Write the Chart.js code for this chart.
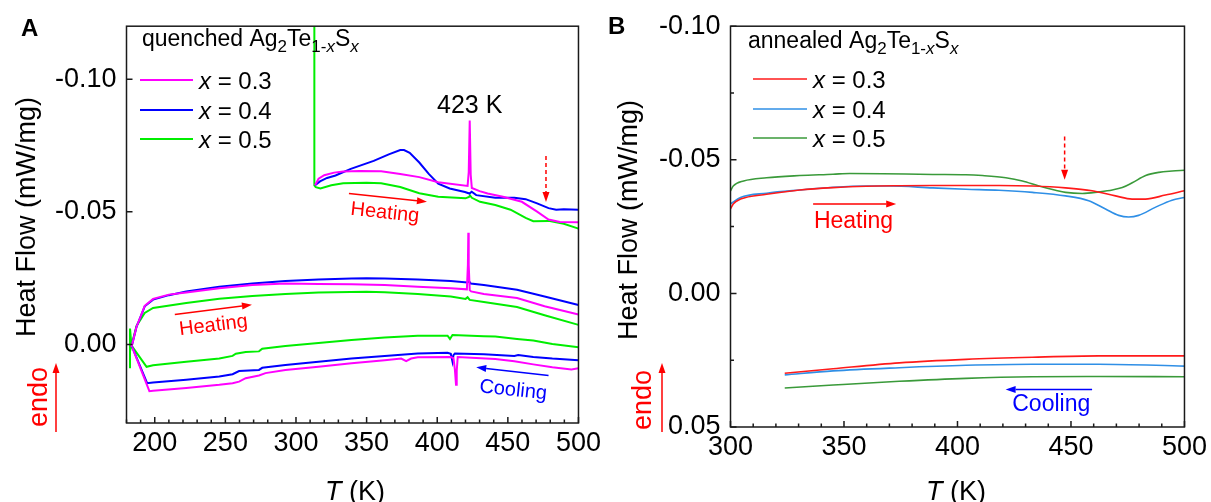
<!DOCTYPE html>
<html>
<head>
<title>DSC heat flow of quenched and annealed Ag2Te1-xSx</title>
<style>
    body { margin: 0; background: #fff; }
    #wrap { position: relative; width: 1211px; height: 502px; }
    #wrap canvas { position: absolute; top: 0; }
    #canvasA { left: 0; }
    #canvasB { left: 605px; }
</style>
<script src="https://cdn.jsdelivr.net/npm/chart.js"></script>
</head>
<body>
<div id="wrap">
    <canvas id="canvasA" width="605" height="502"></canvas>
    <canvas id="canvasB" width="606" height="502"></canvas>
</div>
<script>
// ---- quenched samples (panel A): T in K, heat flow in mW/mg ----
// first heating, from the low-temperature end
const qT3Heat1 = [183.5, 187.1, 189.5, 192.9, 198.8, 210, 222.3, 245.7, 269.1, 292.5, 315.9, 339.3, 362.8, 386.2, 409.6, 421, 421.7, 422, 422.3, 423, 424, 433, 456.5, 476, 500];
const qHF3Heat1 = [0.001, -0.0067, -0.0098, -0.0146, -0.0172, -0.0188, -0.0196, -0.0212, -0.0224, -0.0230, -0.0228, -0.0227, -0.0224, -0.0218, -0.0212, -0.0208, -0.0300, -0.0421, -0.0300, -0.0205, -0.0200, -0.0190, -0.0175, -0.0144, -0.0113];
const qT4Heat1 = [183.5, 187.1, 189.5, 192.9, 198.8, 210, 222.3, 245.7, 269.1, 292.5, 315.9, 339.3, 350, 362.8, 386.2, 409.6, 421.3, 422.5, 423.7, 433, 456.5, 476, 500];
const qHF4Heat1 = [0.001, -0.0067, -0.0098, -0.0144, -0.0169, -0.0186, -0.0200, -0.0218, -0.0230, -0.0239, -0.0245, -0.0249, -0.0250, -0.0249, -0.0245, -0.0239, -0.0234, -0.0238, -0.0230, -0.0224, -0.0206, -0.0181, -0.0149];
const qT5Heat1 = [182.5, 182.5, 183.5, 187.1, 192.9, 198.8, 222.3, 245.7, 269.1, 292.5, 315.9, 350, 362.8, 386.2, 409.6, 420.1, 421.5, 423, 433, 456.5, 476, 500];
const qHF5Heat1 = [0.009, -0.006, 0.0004, -0.0070, -0.0119, -0.0138, -0.0156, -0.0172, -0.0183, -0.0190, -0.0196, -0.0199, -0.0197, -0.0190, -0.0181, -0.0172, -0.0178, -0.0168, -0.0160, -0.0141, -0.0110, -0.0074];

// cooling back down
const qT3Cool = [183.6, 196.2, 198.8, 222.3, 245.7, 255.1, 259.7, 264.4, 273.8, 278.4, 292.5, 315.9, 339.3, 362.8, 374.5, 378.0, 381.5, 386.2, 409.6, 411.5, 412.5, 413.3, 413.8, 414.5, 427.6, 441.1, 454.6, 468, 481.5, 495, 500];
const qHF3Cool = [0.0004, 0.0176, 0.0174, 0.0164, 0.0152, 0.0146, 0.0140, 0.0127, 0.0117, 0.0108, 0.0096, 0.0084, 0.0071, 0.0059, 0.0053, 0.0063, 0.0053, 0.0048, 0.0047, 0.0052, 0.0095, 0.0152, 0.0100, 0.0047, 0.0051, 0.0055, 0.0063, 0.0075, 0.0086, 0.0094, 0.0090];
const qT4Cool = [183.6, 194.6, 198.8, 222.3, 245.7, 255.1, 259.7, 273.8, 276.1, 292.5, 315.9, 339.3, 362.8, 386.2, 407.3, 409.6, 410.8, 411.5, 412.5, 433, 454.6, 457.3, 468, 481.5, 500];
const qHF4Cool = [0.0004, 0.0146, 0.0143, 0.0133, 0.0121, 0.0112, 0.0100, 0.0096, 0.0088, 0.0077, 0.0065, 0.0053, 0.0043, 0.0034, 0.0031, 0.0035, 0.0065, 0.0040, 0.0034, 0.0037, 0.0043, 0.0040, 0.0047, 0.0053, 0.0059];
const qT5Cool = [183.6, 194.2, 198.8, 222.3, 245.7, 255.1, 257.4, 264.4, 273.8, 276.1, 292.5, 315.9, 339.3, 362.8, 386.2, 407.3, 409.0, 410.8, 433, 441.1, 456.5, 468, 481.5, 500];
const qHF5Cool = [0.0004, 0.0084, 0.0078, 0.0065, 0.0053, 0.0043, 0.0035, 0.0028, 0.0026, 0.0016, 0.0006, -0.0006, -0.0017, -0.0026, -0.0033, -0.0033, -0.0021, -0.0036, -0.0031, -0.0030, -0.0021, -0.0015, -0.0002, 0.0010];

// heating run starting from room temperature (offset trace)
const qT3Heat2 = [313.5, 316, 320, 327, 333.4, 345, 360.3, 373.8, 387.3, 400.7, 421.5, 422.3, 423, 423.7, 424.5, 430, 435.7, 446.5, 459.9, 470.7, 478.8, 486.9, 500];
const qHF3Heat2 = [-0.0600, -0.0625, -0.0638, -0.0648, -0.0652, -0.0654, -0.0653, -0.0643, -0.0631, -0.0612, -0.0598, -0.0650, -0.0844, -0.0640, -0.0590, -0.0578, -0.0569, -0.0557, -0.0538, -0.0501, -0.0471, -0.0462, -0.0461];
const qT4Heat2 = [313.5, 317, 322, 328, 338.8, 355, 365.7, 373.8, 376.5, 380.5, 387.3, 394, 400.7, 408.8, 419.6, 422.8, 424.4, 427.6, 441.1, 454.6, 462.6, 470.7, 478.8, 484.2, 489.6, 500];
const qHF4Heat2 = [-0.0600, -0.0615, -0.0628, -0.0637, -0.0662, -0.0692, -0.0717, -0.0733, -0.0733, -0.0723, -0.0686, -0.0643, -0.0606, -0.0588, -0.0575, -0.0569, -0.0576, -0.0563, -0.0553, -0.0553, -0.0548, -0.0532, -0.0514, -0.0508, -0.0510, -0.0508];
const qT5Heat2 = [313, 313, 314, 317.3, 325, 333.4, 350, 360.3, 373.8, 387.3, 400.7, 420, 422.5, 423.2, 424.5, 430.3, 441.1, 451.9, 462.6, 468, 478.8, 489.6, 500];
const qHF5Heat2 = [-0.12, -0.0600, -0.0593, -0.0588, -0.0600, -0.0608, -0.0610, -0.0608, -0.0594, -0.0570, -0.0557, -0.0551, -0.0556, -0.0562, -0.0553, -0.0538, -0.0526, -0.0508, -0.0477, -0.0465, -0.0466, -0.0455, -0.0437];

// ---- annealed samples (panel B) ----
const aT3Heat = [300, 301.2, 304.4, 315.9, 330.5, 345.2, 359.8, 374.4, 389.1, 403.7, 418.3, 433, 447.6, 459.3, 469.6, 476.9, 482.8, 491.6, 500];
const aHF3Heat = [-0.0316, -0.0335, -0.0353, -0.0371, -0.0387, -0.0396, -0.0401, -0.0403, -0.0404, -0.0404, -0.0404, -0.0402, -0.0395, -0.0384, -0.0365, -0.0353, -0.0353, -0.0368, -0.0384];
const aT4Heat = [300, 304.4, 315.9, 330.5, 345.2, 359.8, 370, 389.1, 403.7, 418.3, 433, 447.6, 457.8, 465.2, 471, 475.4, 479.8, 487.1, 494.5, 500];
const aHF4Heat = [-0.0335, -0.0359, -0.0375, -0.0387, -0.0397, -0.0402, -0.0402, -0.0395, -0.0390, -0.0386, -0.0378, -0.0365, -0.0347, -0.0316, -0.0292, -0.0286, -0.0292, -0.0322, -0.0349, -0.0359];
const aT5Heat = [300, 301.2, 305.8, 315.9, 330.5, 345.2, 352.5, 367.1, 389.1, 403.7, 411, 421.3, 428.6, 435.9, 443.2, 447.6, 455, 462.3, 468.2, 472.6, 477, 482.9, 488.7, 494.6, 500];
const aHF5Heat = [-0.0384, -0.0402, -0.0421, -0.0433, -0.0441, -0.0446, -0.0449, -0.0448, -0.0445, -0.0444, -0.0441, -0.0433, -0.0421, -0.0402, -0.0386, -0.0378, -0.0374, -0.0380, -0.0387, -0.0396, -0.0414, -0.0441, -0.0453, -0.0458, -0.0461];
const aTCool = [323.9, 345.2, 374.4, 403.7, 433, 462.2, 500];
const aHF3Cool = [0.0299, 0.0282, 0.0260, 0.0247, 0.0239, 0.0234, 0.0234];
const aHF4Cool = [0.0305, 0.0290, 0.0278, 0.0269, 0.0265, 0.0265, 0.0272];
const aHF5Cool = [0.0354, 0.0343, 0.0329, 0.0318, 0.0312, 0.0311, 0.0312];

// axis ticks
const xTicksA = [200, 250, 300, 350, 400, 450, 500];
const yTicksA = [-0.10, -0.05, 0.00];
const xTicksB = [300, 350, 400, 450, 500];
const yTicksB = [-0.10, -0.05, 0.00, 0.05];
const seriesLabels = ['0.3', '0.4', '0.5'];

const FONT = '"Liberation Sans", Arial, sans-serif';
const RED = '#ff0000', COOL_BLUE = '#0000ff';
Chart.defaults.font.family = FONT;
Chart.defaults.color = '#000';

const pts = (t, v) => t.map((x, i) => ({ x: x, y: v[i] }));

function line(t, v, color, width, smooth) {
    return {
        data: pts(t, v), borderColor: color, borderWidth: width,
        pointRadius: 0, fill: false, tension: 0,
        cubicInterpolationMode: smooth ? 'monotone' : 'default'
    };
}

// text with sub/italic runs, drawn left to right
function richText(ctx, x, y, parts, size) {
    let cx = x;
    ctx.textBaseline = 'alphabetic';
    ctx.textAlign = 'left';
    parts.forEach(p => {
        const s = p.sub ? Math.round(size * 0.72) : size;
        ctx.font = (p.it ? 'italic ' : '') + s + 'px ' + FONT;
        ctx.fillText(p.t, cx, y + (p.sub ? size * 0.25 : 0));
        cx += ctx.measureText(p.t).width;
    });
    return cx - x;
}

function arrow(ctx, x1, y1, x2, y2, color, dashed) {
    const a = Math.atan2(y2 - y1, x2 - x1), hl = 10, hw = 3.5;
    const c = Math.cos(a), s = Math.sin(a);
    ctx.strokeStyle = color; ctx.fillStyle = color; ctx.lineWidth = 1.5;
    ctx.setLineDash(dashed ? [4, 3] : []);
    ctx.beginPath(); ctx.moveTo(x1, y1); ctx.lineTo(x2 - hl * c, y2 - hl * s); ctx.stroke();
    ctx.setLineDash([]);
    ctx.beginPath();
    ctx.moveTo(x2, y2);
    ctx.lineTo(x2 - hl * c + hw * s, y2 - hl * s - hw * c);
    ctx.lineTo(x2 - hl * c - hw * s, y2 - hl * s + hw * c);
    ctx.closePath(); ctx.fill();
}

function rotatedText(ctx, text, x, y, deg, color, size) {
    ctx.save();
    ctx.translate(x, y); ctx.rotate(deg * Math.PI / 180);
    ctx.fillStyle = color; ctx.font = size + 'px ' + FONT;
    ctx.textAlign = 'center'; ctx.textBaseline = 'middle';
    ctx.fillText(text, 0, 0);
    ctx.restore();
}

// frame, inward ticks, titles, legend and annotations
function makeDecor(cfg) {
    return {
        id: 'decor',
        afterDraw(chart) {
            const { ctx, chartArea: a, scales: { x, y } } = chart;
            ctx.save();
            ctx.strokeStyle = '#1a1a1a'; ctx.lineWidth = 1.5;
            ctx.strokeRect(a.left, a.top, a.right - a.left, a.bottom - a.top);

            ctx.beginPath();
            for (let t = Math.ceil(x.min / cfg.xMinor) * cfg.xMinor; t <= x.max + 1e-9; t += cfg.xMinor) {
                const px = x.getPixelForValue(t);
                const len = (t % 50 === 0) ? 6 : 3.5;
                ctx.moveTo(px, a.bottom); ctx.lineTo(px, a.bottom - len);
            }
            cfg.yTicks.forEach(v => {
                const py = y.getPixelForValue(v);
                ctx.moveTo(a.left, py); ctx.lineTo(a.left + 6, py);
            });
            (cfg.yMinor || []).forEach(v => {
                const py = y.getPixelForValue(v);
                ctx.moveTo(a.left, py); ctx.lineTo(a.left + 3.5, py);
            });
            ctx.stroke();

            // panel letter
            ctx.fillStyle = '#000';
            ctx.font = 'bold 24px ' + FONT;
            ctx.textAlign = 'left'; ctx.textBaseline = 'alphabetic';
            ctx.fillText(cfg.letter, cfg.letterAt[0], cfg.letterAt[1]);

            // sample title and legend
            richText(ctx, cfg.titleAt[0], cfg.titleAt[1], cfg.title, 23);
            chart.data.datasets.slice(0, 3).forEach((ds, i) => {
                const ly = cfg.legendY[i];
                ctx.strokeStyle = ds.borderColor; ctx.lineWidth = ds.borderWidth;
                ctx.beginPath(); ctx.moveTo(cfg.legendX[0], ly); ctx.lineTo(cfg.legendX[1], ly); ctx.stroke();
                ctx.fillStyle = '#000';
                richText(ctx, cfg.legendX[2], ly + 8.5, [{ t: 'x', it: 1 }, { t: ' = ' + seriesLabels[i] }], 24);
            });

            // axis titles
            rotatedText(ctx, 'Heat Flow (mW/mg)', cfg.yTitleAt[0], cfg.yTitleAt[1], -90, '#000', 27);
            rotatedText(ctx, 'endo', cfg.endoAt[0], cfg.endoAt[1], -90, RED, 27);
            arrow(ctx, cfg.endoArrow[0], cfg.endoArrow[1], cfg.endoArrow[0], cfg.endoArrow[2], RED, false);
            ctx.fillStyle = '#000';
            ctx.font = '27px ' + FONT;
            const wT = ctx.measureText('T').width, wK = ctx.measureText(' (K)').width;
            const x0 = cfg.xTitleAt[0] - (wT + wK) / 2;
            richText(ctx, x0, cfg.xTitleAt[1] + 10, [{ t: 'T', it: 1 }, { t: ' (K)' }], 27);

            // annotations in data coordinates
            const X = v => x.getPixelForValue(v), Y = v => y.getPixelForValue(v);
            cfg.notes.forEach(n => {
                if (n.kind === 'arrow') {
                    arrow(ctx, X(n.from[0]), Y(n.from[1]), X(n.to[0]), Y(n.to[1]), n.color, n.dashed);
                } else {
                    rotatedText(ctx, n.text, X(n.at[0]), Y(n.at[1]), n.angle || 0, n.color, n.size);
                }
            });
            ctx.restore();
        }
    };
}

function yLabel(v) {
    return Math.abs(v) < 1e-9 ? '0.00' : v.toFixed(2);
}

function panelOptions(p) {
    return {
        responsive: false,
        animation: false,
        layout: { padding: p.pad },
        plugins: { legend: { display: false }, tooltip: { enabled: false } },
        scales: {
            x: {
                type: 'linear', min: p.xMin, max: p.xMax,
                grid: { display: false, drawTicks: false }, border: { display: false },
                afterBuildTicks: s => { s.ticks = p.xTicks.map(v => ({ value: v })); },
                afterFit: s => { s.height = p.xAxisH; },
                ticks: { padding: 4, font: { size: 27 }, color: '#000', maxRotation: 0, autoSkip: false, callback: v => String(v) }
            },
            y: {
                type: 'linear', min: p.yMin, max: p.yMax, reverse: true,
                grid: { display: false, drawTicks: false }, border: { display: false },
                afterBuildTicks: s => { s.ticks = p.yTicks.map(v => ({ value: v })); },
                afterFit: s => { s.width = p.yAxisW; },
                ticks: { padding: 10, font: { size: 27 }, color: '#000', autoSkip: false, callback: v => yLabel(v) }
            }
        }
    };
}

// ---- panel A: quenched ----
const MAG = '#ff00ff', BLU = '#0000ff', GRN = '#00ee00';
new Chart(document.getElementById('canvasA'), {
    type: 'line',
    data: {
        datasets: [
            line(qT3Heat1, qHF3Heat1, MAG, 2),
            line(qT4Heat1, qHF4Heat1, BLU, 2),
            line(qT5Heat1, qHF5Heat1, GRN, 2),
            line(qT3Cool, qHF3Cool, MAG, 2),
            line(qT4Cool, qHF4Cool, BLU, 2),
            line(qT5Cool, qHF5Cool, GRN, 2),
            line(qT3Heat2, qHF3Heat2, MAG, 2),
            line(qT4Heat2, qHF4Heat2, BLU, 2),
            line(qT5Heat2, qHF5Heat2, GRN, 2)
        ]
    },
    options: panelOptions({
        pad: { left: 0, top: 19, right: 23, bottom: 0 },
        xMin: 180, xMax: 500, yMin: -0.12, yMax: 0.0296,
        xTicks: xTicksA, yTicks: yTicksA, xAxisH: 79, yAxisW: 126.5
    }),
    plugins: [makeDecor({
        letter: 'A', letterAt: [21, 36],
        title: [{ t: 'quenched Ag' }, { t: '2', sub: 1 }, { t: 'Te' }, { t: '1-', sub: 1 }, { t: 'x', sub: 1, it: 1 }, { t: 'S' }, { t: 'x', sub: 1, it: 1 }],
        titleAt: [142, 46],
        legendX: [140, 193, 199], legendY: [80, 110, 139],
        yTitleAt: [28, 217], endoAt: [40, 397], endoArrow: [56, 432, 363],
        xTitleAt: [355, 490],
        xMinor: 10, yTicks: yTicksA, yMinor: [],
        notes: [
            { kind: 'text', text: '423 K', at: [423, -0.090], color: '#000', size: 25 },
            { kind: 'arrow', from: [477, -0.0711], to: [477, -0.0537], color: RED, dashed: true },
            { kind: 'arrow', from: [337.5, -0.0569], to: [392.7, -0.0538], color: RED },
            { kind: 'text', text: 'Heating', at: [363, -0.0496], angle: 6, color: RED, size: 20 },
            { kind: 'arrow', from: [214.2, -0.0113], to: [268.8, -0.0150], color: RED },
            { kind: 'text', text: 'Heating', at: [241.6, -0.0071], angle: -7, color: RED, size: 20 },
            { kind: 'arrow', from: [478.8, 0.0117], to: [427.6, 0.0086], color: COOL_BLUE },
            { kind: 'text', text: 'Cooling', at: [453.8, 0.0173], angle: 6, color: COOL_BLUE, size: 20 }
        ]
    })]
});

// ---- panel B: annealed ----
const BR = '#ff1a1a', BB = '#2f8fe6', BG = '#3a9a3a';
new Chart(document.getElementById('canvasB'), {
    type: 'line',
    data: {
        datasets: [
            line(aT3Heat, aHF3Heat, BR, 1.6, true),
            line(aT4Heat, aHF4Heat, BB, 1.6, true),
            line(aT5Heat, aHF5Heat, BG, 1.6, true),
            line(aTCool, aHF3Cool, BR, 1.6, true),
            line(aTCool, aHF4Cool, BB, 1.6, true),
            line(aTCool, aHF5Cool, BG, 1.6, true)
        ]
    },
    options: panelOptions({
        pad: { left: 0, top: 22, right: 25, bottom: 0 },
        xMin: 300, xMax: 500, yMin: -0.10, yMax: 0.05,
        xTicks: xTicksB, yTicks: yTicksB, xAxisH: 75, yAxisW: 125.5
    }),
    plugins: [makeDecor({
        letter: 'B', letterAt: [3, 34],
        title: [{ t: 'annealed Ag' }, { t: '2', sub: 1 }, { t: 'Te' }, { t: '1-', sub: 1 }, { t: 'x', sub: 1, it: 1 }, { t: 'S' }, { t: 'x', sub: 1, it: 1 }],
        titleAt: [143, 48],
        legendX: [148, 202, 208], legendY: [79, 109, 138],
        yTitleAt: [25, 220], endoAt: [39, 400], endoArrow: [57, 432, 363],
        xTitleAt: [351, 490],
        xMinor: 10, yTicks: yTicksB, yMinor: [-0.075, -0.025, 0.025],
        notes: [
            { kind: 'arrow', from: [447.2, -0.0587], to: [447.2, -0.0425], color: RED, dashed: true },
            { kind: 'arrow', from: [336.4, -0.0335], to: [373, -0.0335], color: RED },
            { kind: 'text', text: 'Heating', at: [354.2, -0.0267], color: RED, size: 23 },
            { kind: 'arrow', from: [459.3, 0.0360], to: [421.2, 0.0360], color: COOL_BLUE },
            { kind: 'text', text: 'Cooling', at: [441.3, 0.0415], color: COOL_BLUE, size: 23 }
        ]
    })]
});
</script>
</body>
</html>
